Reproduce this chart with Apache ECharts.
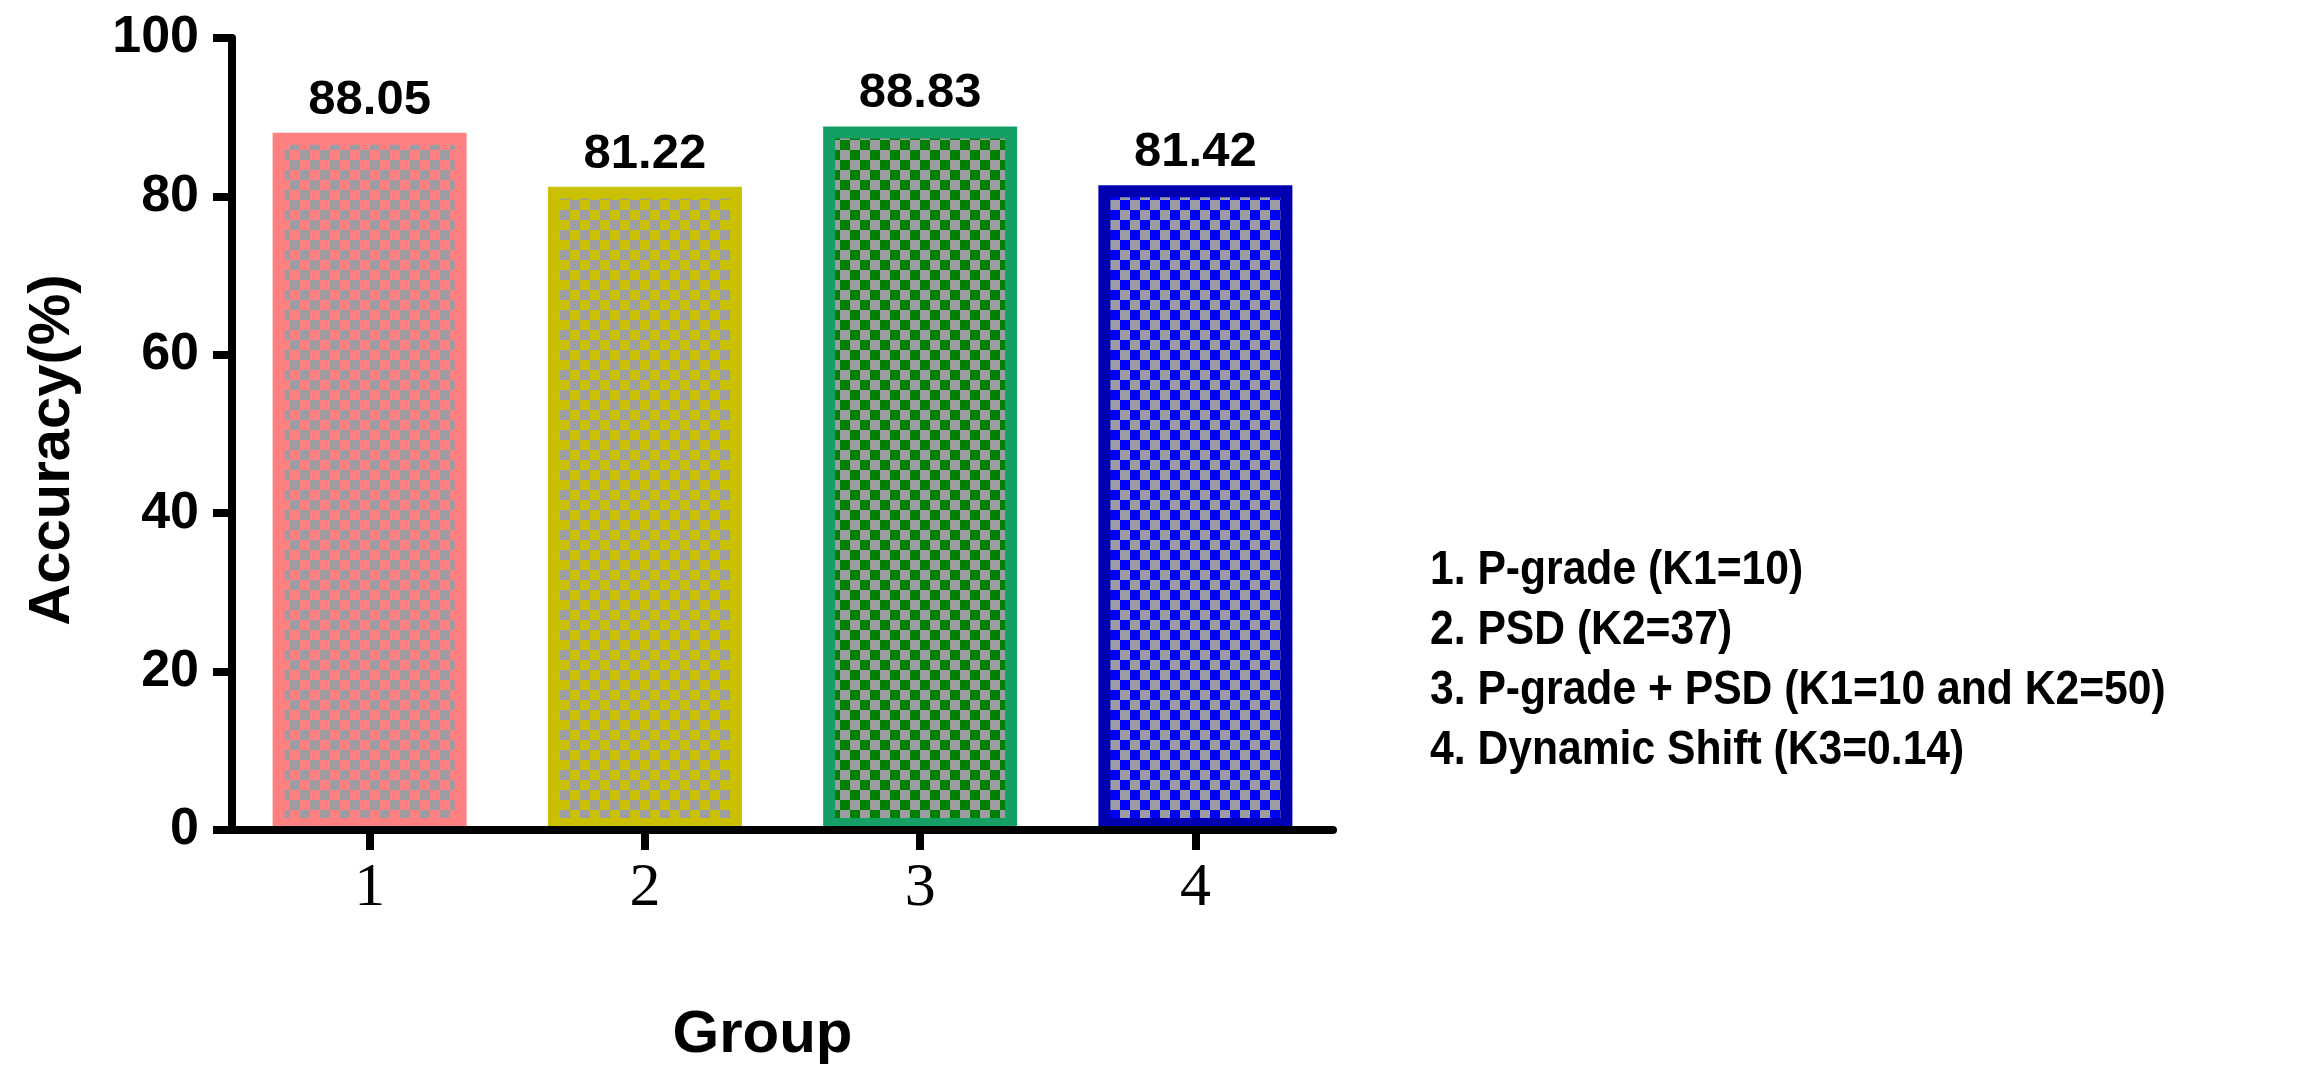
<!DOCTYPE html>
<html>
<head>
<meta charset="utf-8">
<script src="https://cdn.jsdelivr.net/npm/echarts@6/dist/echarts.min.js"></script>
<style>
html,body{margin:0;padding:0;background:#fff;}
#chart{width:2306px;height:1080px;}
</style>
</head>
<body>
<div id="chart"></div>
<script>
// ---- data ----
const categories = ['1', '2', '3', '4'];
const accuracy = [88.05, 81.22, 88.83, 81.42];
const legendLines = [
  '1. P-grade (K1=10)',
  '2. PSD (K2=37)',
  '3. P-grade + PSD (K1=10 and K2=50)',
  '4. Dynamic Shift (K3=0.14)'
];
const xAxisTitle = 'Group';
const yAxisTitle = 'Accuracy(%)';

// ---- styles ----
const checkerColors = ['#FF8080', '#C8C000', '#008000', '#0000FF'];
const borderColors = ['#FF8080', '#C8C000', '#14A064', '#0000B0'];
const checkerGrey = '#9C9CA2';

function makeChecker(base, grey, cell) {
  const c = document.createElement('canvas');
  c.width = cell * 2; c.height = cell * 2;
  const ctx = c.getContext('2d');
  ctx.fillStyle = base; ctx.fillRect(0, 0, cell * 2, cell * 2);
  ctx.fillStyle = grey;
  ctx.fillRect(cell, 0, cell, cell);
  ctx.fillRect(0, cell, cell, cell);
  return c;
}

const sansBold = "'Liberation Sans', Arial, Helvetica, sans-serif";

const chart = echarts.init(document.getElementById('chart'));
chart.setOption({
  backgroundColor: '#ffffff',
  animation: false,
  graphic: [{
    type: 'text',
    x: 1430,
    y: 540,
    scaleX: 0.87,
    style: {
      text: legendLines.join('\n'),
      font: "bold 49px 'Liberation Sans', Arial, sans-serif",
      lineHeight: 60,
      fill: '#000',
      verticalAlign: 'top',
      align: 'left'
    }
  }],
  grid: { left: 232, right: 973, top: 38, bottom: 250, containLabel: false },
  xAxis: {
    type: 'category',
    data: categories,
    z: 10,
    name: xAxisTitle,
    nameLocation: 'middle',
    nameGap: 175,
    nameTextStyle: { fontFamily: sansBold, fontWeight: 'bold', fontSize: 60, color: '#000', padding: [0, 40, 0, 0] },
    axisLine: { show: true, lineStyle: { color: '#000', width: 8 } },
    axisTick: { show: true, alignWithLabel: true, length: 20, lineStyle: { color: '#000', width: 8 } },
    axisLabel: { margin: 28, fontFamily: "'Liberation Serif', 'Times New Roman', serif", fontSize: 62, color: '#000' }
  },
  yAxis: {
    type: 'value',
    min: 0, max: 100, interval: 20,
    z: 10,
    name: yAxisTitle,
    nameLocation: 'middle',
    nameGap: 150,
    nameRotate: 90,
    nameTextStyle: { fontFamily: sansBold, fontWeight: 'bold', fontSize: 58, color: '#000', padding: [0, 32, 0, 0] },
    axisLine: { show: true, lineStyle: { color: '#000', width: 8 } },
    axisTick: { show: true, length: 19, lineStyle: { color: '#000', width: 8 } },
    splitLine: { show: false },
    axisLabel: { margin: 33, fontFamily: sansBold, fontWeight: 'bold', fontSize: 52, color: '#000' }
  },
  series: [{
    type: 'bar',
    barWidth: 194,
    data: accuracy.map((v, i) => ({
      value: v,
      itemStyle: {
        color: { image: makeChecker(checkerColors[i], checkerGrey, 10), repeat: 'repeat' },
        borderColor: borderColors[i],
        borderWidth: 12
      }
    })),
    label: {
      show: true,
      position: 'top',
      distance: 8,
      formatter: p => p.value.toFixed(2),
      fontFamily: sansBold,
      fontWeight: 'bold',
      fontSize: 49,
      color: '#000'
    }
  }]
});
</script>
</body>
</html>
